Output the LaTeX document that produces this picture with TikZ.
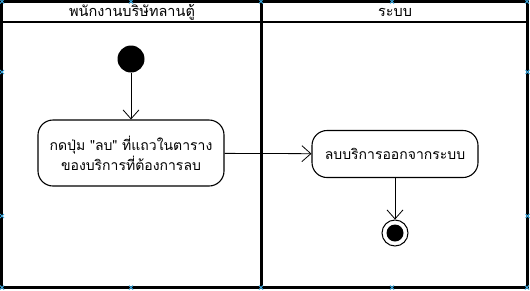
\documentclass[tikz,border=0pt]{standalone}
\usepackage{fontspec}
\newfontfamily\thaifont[Script=Thai]{Loma}
\usetikzlibrary{arrows.meta}
\definecolor{handle}{HTML}{3AA8E0}
\tikzset{
  lane/.style={draw=black, line width=2.2pt},
  action/.style={draw=black, line width=1.1pt, rounded corners=15pt, align=center,
    font=\thaifont\fontsize{14}{20}\selectfont, inner sep=0pt},
  flow/.style={draw=black, line width=0.8pt, -{Straight Barb[length=9pt,width=16pt,line width=0.8pt]}},
  lanetitle/.style={font=\thaifont\fontsize{14.5}{16}\selectfont},
  handlemark/.style={draw=handle, line width=1pt},
}
\begin{document}
\begin{tikzpicture}[x=1pt,y=-1pt]
  \useasboundingbox (0,0) rectangle (530,290);
  \fill[white] (0,0) rectangle (530,290);

  % swimlane frame, title row and divider
  \draw[lane] (1.5,1.5) rectangle (527.5,287.5);
  \draw[lane] (1.5,22) -- (527.5,22);
  \draw[lane] (261.5,1.5) -- (261.5,287.5);
  \node[lanetitle] (laneA) at (132,12) {พนักงานบริษัทลานตู้};
  \node[lanetitle] (laneB) at (395,12) {ระบบ};

  % start, actions and end
  \node[circle, fill=black, minimum size=27pt, inner sep=0pt] (start) at (131,59) {};
  \node[action, minimum width=186pt, minimum height=66pt] (pick) at (131,153)
    {กดปุ่ม "ลบ" ที่แถวในตาราง\\ของบริการที่ต้องการลบ};
  \node[action, minimum width=166pt, minimum height=47pt] (remove) at (395,154)
    {ลบบริการออกจากระบบ};
  \node[circle, draw=black, line width=1pt, minimum size=26pt, inner sep=0pt] (stop) at (395,233) {};
  \node[circle, fill=black, minimum size=17pt, inner sep=0pt] (stopdot) at (stop.center) {};

  % control flow
  \draw[flow] (start) -- (pick);
  \draw[flow] (pick) -- (remove);
  \draw[flow] (remove) -- (stop);

  % selection handles
  \foreach \hx in {2,131,261,392,527} {
    \draw[handlemark] (\hx-2,-0.5) -- (\hx+2,3.5) (\hx-2,3.5) -- (\hx+2,-0.5);
    \draw[handlemark] (\hx-2,285.5) -- (\hx+2,289.5) (\hx-2,289.5) -- (\hx+2,285.5);
  }
  \foreach \hy in {72,216} {
    \draw[handlemark] (0,\hy-2) -- (4,\hy+2) (0,\hy+2) -- (4,\hy-2);
    \draw[handlemark] (525.5,\hy-2) -- (529.5,\hy+2) (525.5,\hy+2) -- (529.5,\hy-2);
  }
\end{tikzpicture}
\end{document}
